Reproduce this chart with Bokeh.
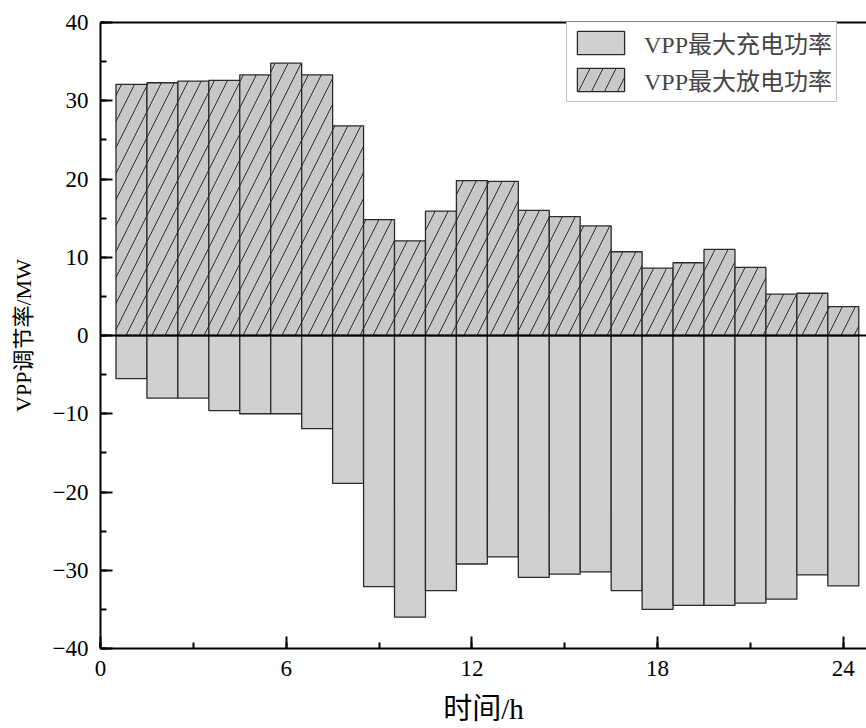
from bokeh.plotting import figure
from bokeh.models import (ColumnDataSource, SingleIntervalTicker, LinearAxis, Span,
                          Range1d, Legend, LegendItem)
from bokeh.embed import file_html
from bokeh.resources import INLINE

hours = list(range(1, 25))
charge_max = [-5.5, -8.0, -8.0, -9.6, -10.0, -10.0, -11.9, -18.9, -32.1, -36.0, -32.6, -29.2,
              -28.3, -30.9, -30.5, -30.2, -32.6, -35.0, -34.5, -34.5, -34.2, -33.7, -30.6, -32.0]
discharge_max = [32.1, 32.3, 32.5, 32.6, 33.3, 34.8, 33.3, 26.8, 14.8, 12.1, 15.9, 19.8,
                 19.7, 16.0, 15.2, 14.0, 10.7, 8.6, 9.3, 11.0, 8.7, 5.3, 5.4, 3.7]
label_charge = "VPP最大充电功率"
label_discharge = "VPP最大放电功率"
x_title = "时间/h"
y_title = "VPP调节率/MW"

src = ColumnDataSource(dict(x=hours, c=charge_max, d=discharge_max))

SERIF = "'Liberation Serif', 'Noto Sans CJK SC'"

p = figure(width=866, height=728, output_backend="svg", toolbar_location=None,
           x_range=Range1d(0, 24.75), y_range=Range1d(-40, 40),
           min_border_left=100, min_border_right=0, min_border_top=22, min_border_bottom=80,
           x_axis_type=None, y_axis_type=None)
p.outline_line_color = None
p.xgrid.visible = False
p.ygrid.visible = False
p.background_fill_color = "white"

r_c = p.vbar(x="x", top="c", bottom=0, width=1.0, source=src,
             fill_color="#d0d0d0", line_color="#2a2a2a", line_width=1.3)
r_d = p.vbar(x="x", top="d", bottom=0, width=1.0, source=src,
             fill_color="#c8c8c8", line_color="#2a2a2a", line_width=1.3,
             hatch_pattern="/", hatch_color="#1a1a1a", hatch_scale=26, hatch_weight=0.9)

p.add_layout(Span(location=0, dimension="width", line_color="black", line_width=2))

xa = LinearAxis(ticker=SingleIntervalTicker(interval=6, num_minor_ticks=2))
ya = LinearAxis(ticker=SingleIntervalTicker(interval=10, num_minor_ticks=2))
for ax in (xa, ya):
    ax.axis_line_width = 2
    ax.axis_line_color = "black"
    ax.major_tick_in = 12
    ax.major_tick_out = 0
    ax.minor_tick_in = 6
    ax.minor_tick_out = 0
    ax.major_tick_line_width = 2
    ax.minor_tick_line_width = 2
    ax.major_label_text_font = SERIF
    ax.major_label_text_font_size = "23px"
    ax.major_label_text_color = "black"
    ax.axis_label_text_font = SERIF
    ax.axis_label_text_font_style = "normal"
    ax.axis_label_text_color = "black"
xa.axis_label = x_title
xa.axis_label_text_font_size = "29px"
xa.major_label_standoff = 12
xa.axis_label_standoff = 14
ya.axis_label = y_title
ya.axis_label_text_font_size = "22px"
ya.major_label_standoff = 12
ya.axis_label_standoff = 14
p.add_layout(xa, "below")
p.add_layout(ya, "left")

top = LinearAxis(ticker=SingleIntervalTicker(interval=6),
                 major_tick_in=0, major_tick_out=0, minor_tick_in=0, minor_tick_out=0,
                 axis_line_width=2)
top.major_label_text_alpha = 0
top.major_label_text_font_size = "1px"
p.add_layout(top, "above")

legend = Legend(items=[LegendItem(label=label_charge, renderers=[r_c]),
                       LegendItem(label=label_discharge, renderers=[r_d])],
                location=(466, 546), orientation="vertical")
legend.glyph_width = 59
legend.glyph_height = 29
legend.label_text_font = SERIF
legend.label_text_font_size = "24px"
legend.label_height = 29
legend.label_standoff = 14
legend.spacing = 2
legend.padding = 4
legend.margin = 0
legend.border_line_color = "#888888"
legend.border_line_width = 1
legend.background_fill_color = "white"
legend.background_fill_alpha = 1
p.add_layout(legend)

open("out.html", "w").write(file_html(p, INLINE))
